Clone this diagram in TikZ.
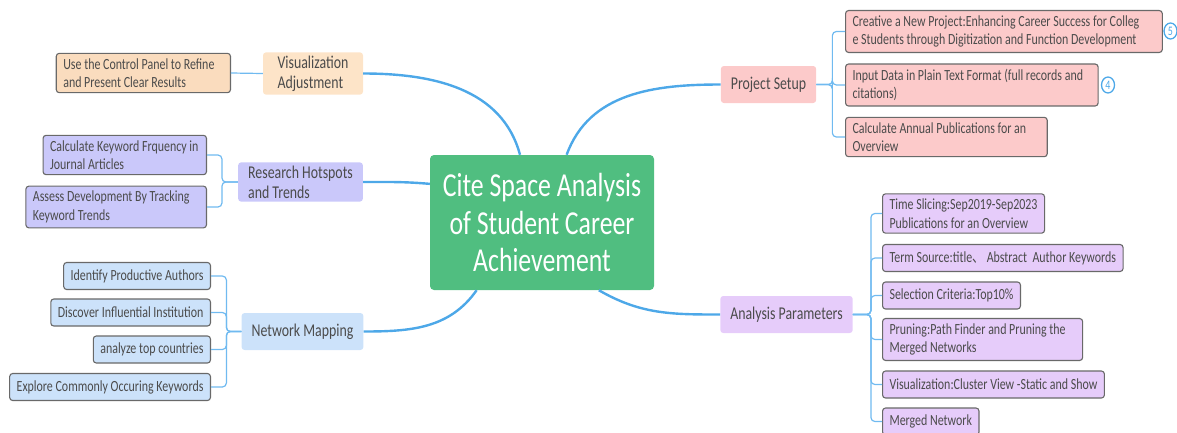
\documentclass[tikz,border=0pt]{standalone}
\usepackage{fontspec}
\setmainfont{Carlito}[FakeStretch=0.77]
\newfontfamily\cjkfont{Noto Sans CJK SC}[FakeStretch=0.77]
\usepackage{tikz}
\usetikzlibrary{shapes.geometric}

\definecolor{hubgreen}{RGB}{80,190,128}
\definecolor{branchblue}{RGB}{77,168,232}
\definecolor{twigblue}{RGB}{112,186,240}
\definecolor{peachtopic}{RGB}{253,228,200}
\definecolor{peachleaf}{RGB}{250,220,190}
\definecolor{lavender}{RGB}{202,200,250}
\definecolor{skyblue}{RGB}{204,226,250}
\definecolor{rosepink}{RGB}{252,202,202}
\definecolor{lilac}{RGB}{230,204,250}
\definecolor{leafedge}{RGB}{105,105,105}
\definecolor{textgray}{RGB}{75,75,75}

\newcommand{\leafsize}[0] {\fontsize{15.5}{18.5}\selectfont}
\newcommand{\topicsize}[0] {\fontsize{18}{20}\selectfont}
\newcommand{\hubsize}[0] {\fontsize{33.5}{37.5}\selectfont}
\newcommand{\wrapgap}[1] {\hspace*{#1}}

\begin{document}
\begin{tikzpicture}[x=1pt,y=1pt,
  hub/.style={fill=hubgreen, rounded corners=4pt, font=\hubsize, text=white, align=center, minimum width=224pt, minimum height=135pt},
  topic/.style={fill=#1, rounded corners=3pt, font=\topicsize, text=textgray, align=left, inner xsep=10pt, minimum height=37pt},
  leaf/.style={fill=#1, draw=leafedge, line width=1.1pt, rounded corners=3pt, font=\leafsize, text=textgray, align=left, inner xsep=7pt, inner ysep=5pt, minimum height=27pt},
  branch/.style={draw=branchblue, line width=2.4pt},
  twig/.style={draw=twigblue, line width=1.2pt, rounded corners=4pt},
  badge/.style={ellipse, draw=branchblue, line width=1.3pt, text=branchblue, font=\fontsize{13}{13}\selectfont, inner sep=0pt, minimum width=13pt, minimum height=16pt}]
        \useasboundingbox (0,0) rectangle (1177,-432);

        \node[hub] (cen) at (542,-222.5) {Cite Space Analysis\\of Student Career\\Achievement};

        \node[topic=peachtopic, minimum width=100pt] (va) at (313,-73.5) {Visualization\\Adjustment};
        \node[topic=lavender] (rh) at (300.5,-182) {Research Hotspots\\and Trends};
        \node[topic=skyblue] (nm) at (302.5,-331.5) {Network Mapping};
        \node[topic=rosepink] (ps) at (768.5,-84.5) {Project Setup};
        \node[topic=lilac] (ap) at (786.5,-314.5) {Analysis Parameters};

        \node[leaf=peachleaf, anchor=east] (va1) at (231,-73) {Use the Control Panel to Refine\wrapgap{9pt}\\and Present Clear Results};

        \node[leaf=lavender, anchor=east] (rh1) at (207,-155) {Calculate Keyword Frquency in\wrapgap{1pt}\\Journal Articles};
        \node[leaf=lavender, anchor=east] (rh2) at (207,-207) {Assess Development By Tracking\wrapgap{10pt}\\Keyword Trends};

        \node[leaf=skyblue, anchor=east] (nm1) at (211,-276) {Identify Productive Authors};
        \node[leaf=skyblue, anchor=east] (nm2) at (211,-312.5) {Discover Influential Institution};
        \node[leaf=skyblue, anchor=east] (nm3) at (211,-349.5) {analyze top countries};
        \node[leaf=skyblue, anchor=east] (nm4) at (211,-387) {Explore Commonly Occuring Keywords};

        \node[leaf=rosepink, anchor=west] (ps1) at (845,-31.5) {Creative a New Project:Enhancing Career Success for Colleg\wrapgap{16pt}\\e Students through Digitization and Function Development};
        \node[leaf=rosepink, anchor=west] (ps2) at (845,-85) {Input Data in Plain Text Format (full records and\wrapgap{8pt}\\citations)};
        \node[leaf=rosepink, anchor=west] (ps3) at (845,-137) {Calculate Annual Publications for an\wrapgap{14pt}\\Overview};
        \node[badge] (b5) at (1170.5,-31) {5};
        \node[badge] (b4) at (1108,-85) {4};

        \node[leaf=lilac, anchor=west] (ap1) at (882,-213.5) {Time Slicing:Sep2019-Sep2023\\Publications for an Overview};
        \node[leaf=lilac, anchor=west] (ap2) at (882,-258) {Term Source:title{\cjkfont 、}\ Abstract\ \ Author Keywords};
        \node[leaf=lilac, anchor=west] (ap3) at (882,-295.5) {Selection Criteria:Top10\%};
        \node[leaf=lilac, anchor=west] (ap4) at (882,-339.5) {Pruning:Path Finder and Pruning the\wrapgap{10pt}\\Merged Networks};
        \node[leaf=lilac, anchor=west] (ap5) at (882,-384.5) {Visualization:Cluster View -Static and Show};
        \node[leaf=lilac, anchor=west] (ap6) at (882,-421.5) {Merged Network};

        %main branches
        \draw[branch] (cen.108) to[out=105,in=0] (va.east);
        \draw[branch] (cen.161) to[out=175,in=0] (rh.east);
        \draw[branch] (cen.226) to[out=235,in=0] (nm.east);
        \draw[branch] (cen.70) to[out=70,in=180] (ps.west);
        \draw[branch] (cen.310) to[out=-30,in=180] (ap.west);

        %twigs to leaves
        \draw[twig] (va.west) -- (va1.east);
        \foreach \n in {1,2} \draw[twig] (rh.west) -- ++(-16,0) |- (rh\n.east);
        \foreach \n in {1,...,4} \draw[twig] (nm.west) -- ++(-15,0) |- (nm\n.east);
        \foreach \n in {1,2,3} \draw[twig] (ps.east) -- ++(16,0) |- (ps\n.west);
        \foreach \n in {1,...,6} \draw[twig] (ap.east) -- ++(18,0) |- (ap\n.west);
\end{tikzpicture}
\end{document}
